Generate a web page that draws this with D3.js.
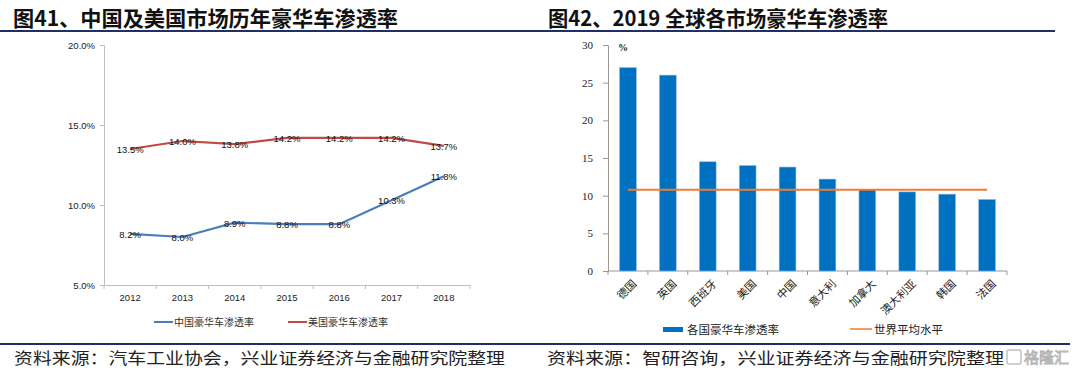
<!DOCTYPE html>
<html><head><meta charset="utf-8">
<script src="https://cdn.jsdelivr.net/npm/d3@7"></script>
<style>
html,body{margin:0;padding:0;background:#fff;}
svg{display:block;}
</style></head>
<body>
<svg id="c" width="1080" height="373"></svg>
<script>
// ---------- data ----------
const years = ["2012","2013","2014","2015","2016","2017","2018"];
const chinaRate = [8.2, 8.0, 8.9, 8.8, 8.8, 10.3, 11.8];
const usRate = [13.5, 14.0, 13.8, 14.2, 14.2, 14.2, 13.7];
const leftTicks = [5, 10, 15, 20];
const leftSeriesNames = ["中国豪华车渗透率", "美国豪华车渗透率"];

const countries = ["德国","英国","西班牙","美国","中国","意大利","加拿大","澳大利亚","韩国","法国"];
const countryRate = [27, 26, 14.5, 14, 13.8, 12.2, 10.8, 10.5, 10.2, 9.5];
const worldAvg = 10.8;
const rightTicks = [0, 5, 10, 15, 20, 25, 30];
const rightSeriesNames = ["各国豪华车渗透率", "世界平均水平"];

const titles = ["图41、中国及美国市场历年豪华车渗透率", "图42、2019 全球各市场豪华车渗透率"];
const sources = ["资料来源：汽车工业协会，兴业证券经济与金融研究院整理", "资料来源：智研咨询，兴业证券经济与金融研究院整理"];

// ---------- drawing ----------
const svg = d3.select("#c");
const cjk = "'Noto Sans CJK SC', sans-serif";
const sans = "'Liberation Sans', Arial, sans-serif";
const serif = "'Liberation Serif', 'Times New Roman', serif";

// titles
svg.append("text").attr("x", 13).attr("y", 26).text(titles[0])
  .attr("font-family", cjk).attr("font-weight", 700).attr("font-size", 21).attr("fill", "#111")
  .attr("textLength", 385).attr("lengthAdjust", "spacingAndGlyphs");
svg.append("text").attr("x", 548).attr("y", 26).text(titles[1])
  .attr("font-family", cjk).attr("font-weight", 700).attr("font-size", 21).attr("fill", "#111")
  .attr("textLength", 340).attr("lengthAdjust", "spacingAndGlyphs");
svg.append("rect").attr("x", 0).attr("y", 30).attr("width", 1055).attr("height", 2).attr("fill", "#1F2F6B");

// footer
svg.append("rect").attr("x", 0).attr("y", 343).attr("width", 1070).attr("height", 2).attr("fill", "#1F2F6B");
svg.append("text").attr("x", 14).attr("y", 364).text(sources[0])
  .attr("font-family", cjk).attr("font-size", 16).attr("fill", "#222")
  .attr("textLength", 491).attr("lengthAdjust", "spacingAndGlyphs");
svg.append("text").attr("x", 547).attr("y", 364).text(sources[1])
  .attr("font-family", cjk).attr("font-size", 16).attr("fill", "#222")
  .attr("textLength", 457).attr("lengthAdjust", "spacingAndGlyphs");
// watermark
const wm = svg.append("g").attr("opacity", 0.75);
wm.append("rect").attr("x", 1007).attr("y", 350).attr("width", 14).attr("height", 14).attr("rx", 2)
  .attr("fill", "none").attr("stroke", "#aaa").attr("stroke-width", 1.5);
wm.append("text").attr("x", 1024).attr("y", 363).text("格隆汇")
  .attr("font-family", cjk).attr("font-size", 15).attr("fill", "#fff").attr("stroke", "#999").attr("stroke-width", 0.9);

// ---------- left chart ----------
const xL = d3.scaleBand().domain(years).range([104, 470]).padding(0);
const yL = d3.scaleLinear().domain([5, 20]).range([285, 45]);

const gL = svg.append("g");
// y axis
const yAxL = gL.append("g").attr("transform", "translate(104,0)")
  .call(d3.axisLeft(yL).tickValues(leftTicks).tickSize(4).tickFormat(d => d.toFixed(1) + "%"));
yAxL.select(".domain").attr("stroke", "#bfbfbf");
yAxL.selectAll(".tick line").attr("stroke", "#bfbfbf");
yAxL.selectAll("text").attr("font-family", sans).attr("font-size", 9.5).attr("fill", "#222").attr("x", -9);
// x axis
const xAxL = gL.append("g").attr("transform", "translate(0,285)")
  .call(d3.axisBottom(xL).tickSize(0).tickPadding(9));
xAxL.select(".domain").attr("stroke", "#bfbfbf");
xAxL.selectAll("text").attr("font-family", sans).attr("font-size", 9.5).attr("fill", "#222");
// band boundary ticks
gL.selectAll("line.bt").data(d3.range(years.length + 1)).join("line")
  .attr("x1", i => xL.range()[0] + i * xL.step()).attr("x2", i => xL.range()[0] + i * xL.step())
  .attr("y1", 285).attr("y2", 289).attr("stroke", "#bfbfbf");

const lineGen = d3.line().x((d, i) => xL(years[i]) + xL.bandwidth() / 2).y(d => yL(d));
const leftColors = ["#4A7EBB", "#BE4B48"];
[chinaRate, usRate].forEach((s, k) => {
  gL.append("path").datum(s).attr("d", lineGen).attr("fill", "none")
    .attr("stroke", leftColors[k]).attr("stroke-width", 2.2);
});
[chinaRate, usRate].forEach((s, k) => {
  gL.selectAll("text.lab" + k).data(s).join("text")
    .attr("x", (d, i) => xL(years[i]) + xL.bandwidth() / 2)
    .attr("y", d => yL(d) + 4)
    .attr("text-anchor", "middle").attr("font-family", sans).attr("font-size", 9.5).attr("fill", "#111")
    .text(d => d.toFixed(1) + "%");
});
// legend
const legL = [[154, 174], [288, 308]];
leftSeriesNames.forEach((n, k) => {
  gL.append("line").attr("x1", legL[k][0]).attr("x2", legL[k][0] + 19).attr("y1", 322).attr("y2", 322)
    .attr("stroke", leftColors[k]).attr("stroke-width", 2);
  gL.append("text").attr("x", legL[k][1]).attr("y", 326).text(n)
    .attr("font-family", cjk).attr("font-size", 10).attr("fill", "#333");
});

// ---------- right chart ----------
const xR = d3.scaleBand().domain(countries).range([608, 1007]).paddingInner(0.58).paddingOuter(0.29);
const xRb = d3.scaleBand().domain(countries).range([608, 1007]).padding(0);
const yR = d3.scaleLinear().domain([0, 30]).range([271, 45]);
const gR = svg.append("g");

const yAxR = gR.append("g").attr("transform", "translate(608,0)")
  .call(d3.axisLeft(yR).tickValues(rightTicks).tickSize(5).tickPadding(10));
yAxR.select(".domain").attr("stroke", "#999");
yAxR.selectAll(".tick line").attr("stroke", "#999");
yAxR.selectAll("text").attr("font-family", serif).attr("font-size", 11).attr("fill", "#222");
gR.append("line").attr("x1", 608).attr("x2", 1007).attr("y1", 271).attr("y2", 271).attr("stroke", "#999");
gR.selectAll("line.bt").data(d3.range(countries.length + 1)).join("line")
  .attr("x1", i => 608 + i * xRb.step()).attr("x2", i => 608 + i * xRb.step())
  .attr("y1", 271).attr("y2", 275).attr("stroke", "#999");
gR.append("text").attr("x", 618).attr("y", 51).text("%")
  .attr("font-family", serif).attr("font-weight", 700).attr("font-size", 10).attr("fill", "#222");

gR.selectAll("rect.bar").data(countryRate).join("rect")
  .attr("x", (d, i) => xR(countries[i])).attr("width", xR.bandwidth())
  .attr("y", d => yR(d)).attr("height", d => yR(0) - yR(d))
  .attr("fill", "#0070C0").attr("stroke", "#8DB8E0").attr("stroke-width", 0.6);

gR.append("line")
  .attr("x1", xRb(countries[0]) + xRb.bandwidth() / 2)
  .attr("x2", xRb(countries[countries.length - 1]) + xRb.bandwidth() / 2)
  .attr("y1", yR(worldAvg)).attr("y2", yR(worldAvg))
  .attr("stroke", "#ED7D31").attr("stroke-width", 2);

gR.selectAll("text.xl").data(countries).join("text")
  .attr("transform", d => `translate(${xRb(d) + xRb.bandwidth() / 2 + 4},${279}) rotate(-45)`)
  .attr("text-anchor", "end").attr("dy", "0.7em")
  .attr("font-family", cjk).attr("font-size", 11).attr("fill", "#222").text(d => d);

// legend
gR.append("rect").attr("x", 663).attr("y", 327).attr("width", 20).attr("height", 5).attr("fill", "#0070C0");
gR.append("text").attr("x", 687).attr("y", 334).text(rightSeriesNames[0])
  .attr("font-family", cjk).attr("font-size", 11.5).attr("fill", "#222");
gR.append("line").attr("x1", 850).attr("x2", 872).attr("y1", 329).attr("y2", 329)
  .attr("stroke", "#ED7D31").attr("stroke-width", 1.5);
gR.append("text").attr("x", 874).attr("y", 334).text(rightSeriesNames[1])
  .attr("font-family", cjk).attr("font-size", 11.5).attr("fill", "#222");
</script>
</body></html>
